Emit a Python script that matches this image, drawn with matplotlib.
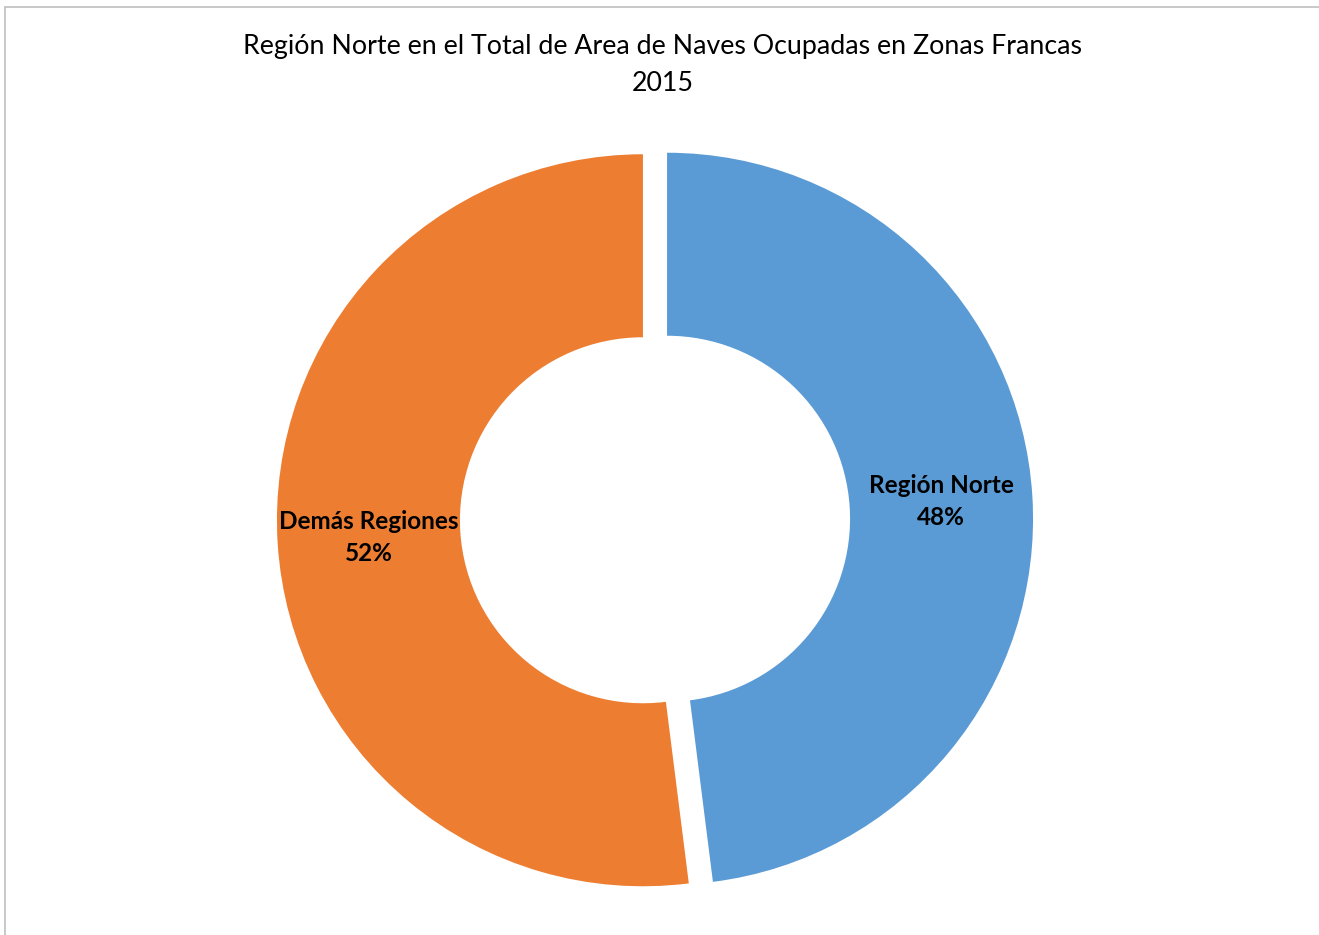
import matplotlib
matplotlib.use("Agg")
import matplotlib.pyplot as plt
from matplotlib.patches import Rectangle

# data
categories = ["Región Norte", "Demás Regiones"]
shares = [48, 52]
colors = ["#5B9BD5", "#ED7D31"]

title = "Región Norte en el Total de Area de Naves Ocupadas en Zonas Francas\n2015"

W, H = 1319, 935
fig = plt.figure(figsize=(W / 100, H / 100), dpi=100, facecolor="w")
plt.rcParams["font.family"] = ["Lato", "DejaVu Sans"]

# chart border (right/bottom fall outside the picture)
fig.patches.append(Rectangle((5 / W, -0.01), 1.02, (H - 7) / H + 0.01,
                             transform=fig.transFigure, fill=False,
                             edgecolor="#BFBFBF", linewidth=1.2))

ax = fig.add_axes([0, 0, 1, 1])
labels = [f"{c}\n{s}%" for c, s in zip(categories, shares)]
texts = ax.pie(shares, colors=colors, labels=labels, startangle=90,
               counterclock=False, explode=[0.033, 0.033], labeldistance=0.75,
               wedgeprops=dict(width=0.5, linewidth=0),
               textprops=dict(ha="center", va="center", fontsize=17.5,
                              fontweight="bold", color="black",
                              linespacing=1.5))[1]

# pixel-matched limits: radius 1 -> 366 px, centre at (655, 519.5) px
r = 366.0
cx, cy = 655.0, 519.5
ax.set_xlim(-cx / r, (W - cx) / r)
ax.set_ylim(-(H - cy) / r, cy / r)
ax.set_aspect("equal")
ax.axis("off")

fig.text(663 / W, 1 - 65 / H, title, ha="center", va="center", fontsize=19.3,
         linespacing=1.6)

fig.savefig("out.png", dpi=100, facecolor="w")
